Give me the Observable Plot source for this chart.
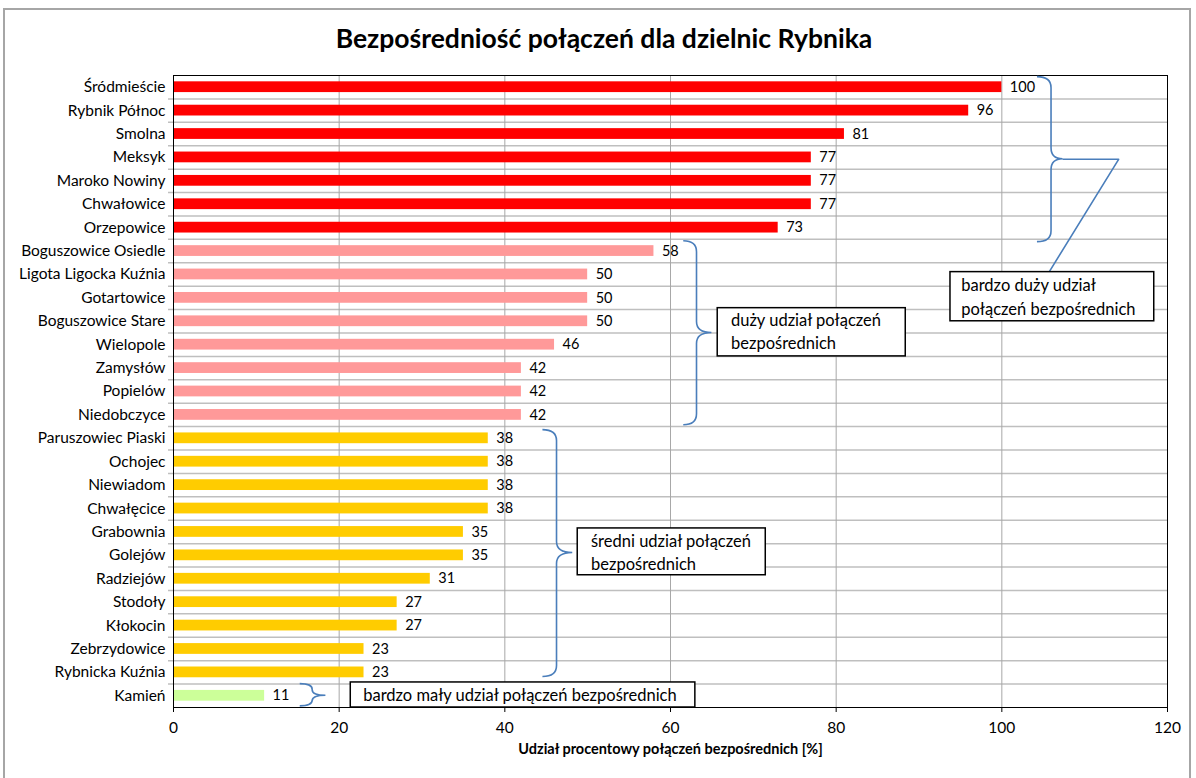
<!DOCTYPE html>
<html><head><meta charset="utf-8">
<script src="https://cdn.jsdelivr.net/npm/d3@7"></script>
<script src="https://cdn.jsdelivr.net/npm/@observablehq/plot@0.6"></script>
<style>
body{margin:0;background:#fff;font-family:Lato,"Open Sans",sans-serif;}
#wrap{position:relative;width:1196px;height:778px;overflow:hidden;}
#border{position:absolute;left:3px;top:8px;width:1188px;height:780px;border:2px solid #a6a6a6;box-sizing:border-box;}
#title{position:absolute;top:22px;left:6px;width:1196px;text-align:center;font-weight:bold;font-size:26.5px;color:#000;}
#chart{position:absolute;left:0;top:0;}
</style></head>
<body><div id="wrap"><div id="border"></div><div id="title">Bezpośredniość połączeń dla dzielnic Rybnika</div><div id="chart"></div></div>
<script>
const districts = ["Śródmieście","Rybnik Północ","Smolna","Meksyk","Maroko Nowiny","Chwałowice","Orzepowice","Boguszowice Osiedle","Ligota Ligocka Kuźnia","Gotartowice","Boguszowice Stare","Wielopole","Zamysłów","Popielów","Niedobczyce","Paruszowiec Piaski","Ochojec","Niewiadom","Chwałęcice","Grabownia","Golejów","Radziejów","Stodoły","Kłokocin","Zebrzydowice","Rybnicka Kuźnia","Kamień"];
const shares = [100,96,81,77,77,77,73,58,50,50,50,46,42,42,42,38,38,38,38,35,35,31,27,27,23,23,11];
const groups = [0,0,0,0,0,0,0,1,1,1,1,1,1,1,1,2,2,2,2,2,2,2,2,2,2,2,3];
const groupColors = ["#ff0000","#ff9999","#ffcc00","#ccff99"];
const xTicks = [0,20,40,60,80,100,120];
const axisTitle = "Udział procentowy połączeń bezpośrednich [%]";

// annotation braces (x in %, y in row index)
const braceX0 = [104.3, 61.6, 44.6, 15.3];
const braceXm = [106.0, 63.2, 46.3, 16.8];
const braceXt = [107.4, 65.0, 48.2, 18.4];
const braceYTop = [-0.43, 6.58, 14.65, 25.5];
const braceYBot = [6.62, 14.44, 25.2, 26.45];
const braceYTip = [3.08, 10.5, 19.9, 26.0];
const calloutX = [107.4, 114.1, 105.7];
const calloutY = [3.08, 3.08, 7.9];

const boxX1 = [93.8, 65.7, 48.8, 21.4];
const boxX2 = [118.4, 88.4, 71.5, 63.0];
const boxY1 = [7.9, 9.44, 18.85, 25.43];
const boxY2 = [10.0, 11.5, 20.85, 26.5];
const noteText = ["bardzo duży udział","połączeń bezpośrednich","duży udział połączeń","bezpośrednich","średni udział połączeń","bezpośrednich","bardzo mały udział połączeń bezpośrednich"];
const noteX = [95.1, 95.1, 67.3, 67.3, 50.4, 50.4, 22.9];
const noteY = [8.46, 9.5, 9.96, 10.94, 19.4, 20.4, 26.0];

const rows = districts.map((d,i)=>({i, d, v: shares[i], g: groups[i]}));
const boxes = boxX1.map((x1,i)=>({x1, x2: boxX2[i], y1: boxY1[i], y2: boxY2[i]}));
const notes = noteText.map((t,i)=>({t, x: noteX[i], y: noteY[i]}));
const braces = braceX0.map((x0,i)=>({x0, xm: braceXm[i], xt: braceXt[i], yt: braceYTop[i], yb: braceYBot[i], yc: braceYTip[i]}));
const callout = calloutX.map((x,i)=>({x, y: calloutY[i]}));
const boundaries = d3.range(districts.length - 1).map(i => i + 0.5);

function braceMark(index, scales) {
  const g = d3.create("svg:g");
  for (const b of braces) {
    const x0 = scales.x(b.x0), xm = scales.x(b.xm), xt = scales.x(b.xt);
    const yt = scales.y(b.yt), yb = scales.y(b.yb), yc = scales.y(b.yc);
    const r = Math.min(11, (yb - yt) / 4);
    const p = `M${x0},${yt} Q${xm},${yt} ${xm},${yt+r} L${xm},${yc-r} Q${xm},${yc} ${xt},${yc} Q${xm},${yc} ${xm},${yc+r} L${xm},${yb-r} Q${xm},${yb} ${x0},${yb}`;
    g.append("path").attr("d", p).attr("fill","none").attr("stroke","#4a7ebb").attr("stroke-width",1.6);
  }
  return g.node();
}

const chart = Plot.plot({
  width: 1196, height: 778,
  marginTop: 75, marginBottom: 71, marginLeft: 173, marginRight: 29,
  style: {fontFamily: "Lato, sans-serif", fontSize: "15.5px", color: "#000", background: "transparent"},
  x: {domain: [0,120], ticks: xTicks, tickSize: 5, tickPadding: 9, label: null},
  y: {domain: [districts.length - 0.5, -0.5], ticks: d3.range(districts.length), tickFormat: i => districts[i], tickSize: 0, tickPadding: 8, label: null},
  marks: [
    Plot.ruleY(boundaries, {stroke: "#bfbfbf", strokeWidth: 1.5, insetLeft: -5}),
    Plot.ruleX(xTicks.slice(1, -1), {stroke: "#a8a8a8", strokeWidth: 1}),
    Plot.rectX(rows, {x1: 0, x2: "v", y1: d => d.i - 0.23, y2: d => d.i + 0.23, fill: d => groupColors[d.g]}),
    Plot.text(rows, {x: "v", y: "i", text: d => String(d.v), textAnchor: "start", dx: 8, fontSize: 14.5, fill: "#000"}),
    Plot.frame({stroke: "#000", strokeWidth: 1}),
    braceMark,
    Plot.line(callout, {x: "x", y: "y", stroke: "#4a7ebb", strokeWidth: 1.6, curve: "linear"}),
    Plot.rect(boxes, {x1: "x1", x2: "x2", y1: "y1", y2: "y2", fill: "white", stroke: "#000", strokeWidth: 1.5}),
    Plot.text(notes, {x: "x", y: "y", text: "t", textAnchor: "start", fontSize: 16.5, fill: "#000"}),
    Plot.text([axisTitle], {text: d => d, frameAnchor: "bottom", dy: 46, fontWeight: "bold", fontSize: 14.5, fill: "#000"})
  ]
});
document.getElementById("chart").appendChild(chart);
</script></body></html>
